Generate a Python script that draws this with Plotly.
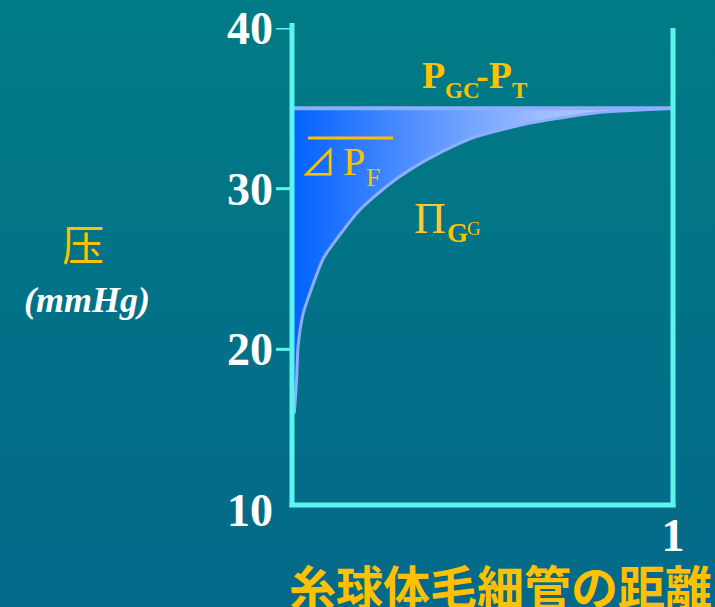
import base64
import plotly.graph_objects as go

# Distance along the glomerular capillary (0 = afferent end, 1 = efferent end)
distance = [0.006, 0.012, 0.016, 0.029, 0.053, 0.083, 0.131, 0.179,
            0.251, 0.311, 0.394, 0.478, 0.610, 0.790, 1.000]
# Oncotic pressure in the glomerular capillary, mmHg
pi_gg = [16.0, 18.1, 20.2, 22.2, 23.9, 25.7, 27.3, 28.7,
         30.2, 31.2, 32.3, 33.2, 34.0, 34.7, 35.0]
# Hydrostatic pressure difference P_GC - P_T, mmHg (constant)
p_diff_x = [0.0, 1.0]
p_diff_y = [35.0, 35.0]

y_tick_values = [10, 20, 30, 40]
y_tick_marks = [20, 30, 40]
x_tick_values = [1]
x_tick_text = ["1"]

W, H = 715, 607
L, R, T, B = 292, 42, 28, 97
PW, PH = W - L - R, H - T - B

GOLD = "#FFC000"
CYAN = "#5CF4EC"
SERIF = "Liberation Serif, Times New Roman, serif"
CJK = "Noto Sans CJK JP, Noto Sans CJK SC, sans-serif"


def px_x(px):
    return (px - L) / PW


def px_y(py):
    return (H - B - py) / PH


# teal background gradient
svg = (
    f'<svg xmlns="http://www.w3.org/2000/svg" width="{W}" height="{H}" '
    f'viewBox="0 0 {W} {H}" preserveAspectRatio="none">'
    '<defs><linearGradient id="g" x1="0" y1="0" x2="0" y2="1">'
    '<stop offset="0" stop-color="#007B85"/>'
    '<stop offset="1" stop-color="#04698A"/>'
    '</linearGradient></defs>'
    f'<rect width="{W}" height="{H}" fill="url(#g)"/></svg>'
)
bg_src = "data:image/svg+xml;base64," + base64.b64encode(svg.encode()).decode()

fig = go.Figure()

# P_GC - P_T level
fig.add_trace(go.Scatter(
    x=p_diff_x, y=p_diff_y, mode="lines",
    line=dict(color="#8CAEFF", width=4),
    hoverinfo="skip", showlegend=False,
))
# Pi_GG curve, filled up to P_GC - P_T (net filtration pressure)
fig.add_trace(go.Scatter(
    x=distance, y=pi_gg, mode="lines",
    line=dict(color="#8FAEFF", width=3, shape="spline", smoothing=0.6),
    fill="tonexty",
    fillgradient=dict(
        type="horizontal",
        colorscale=[[0, "#0062FF"], [0.3, "#4D8DFF"], [0.65, "#9DBDFF"], [1, "#C8DAFF"]],
    ),
    hoverinfo="skip", showlegend=False,
))

shapes = []
# frame: left axis, right side, bottom
shapes.append(dict(type="line", xref="paper", yref="paper",
                   x0=0, x1=0, y0=px_y(507), y1=px_y(23),
                   line=dict(color=CYAN, width=5)))
shapes.append(dict(type="line", xref="paper", yref="paper",
                   x0=px_x(673), x1=px_x(673), y0=px_y(507), y1=px_y(28),
                   line=dict(color=CYAN, width=5)))
shapes.append(dict(type="line", xref="paper", yref="paper",
                   x0=px_x(289.5), x1=px_x(675.5), y0=px_y(505), y1=px_y(505),
                   line=dict(color=CYAN, width=5)))
for v in y_tick_marks:
    shapes.append(dict(type="line", xref="paper", yref="y",
                       x0=px_x(276), x1=0, y0=v, y1=v,
                       line=dict(color=CYAN, width=3)))
# overline of the mean filtration pressure symbol
shapes.append(dict(type="line", xref="paper", yref="paper",
                   x0=px_x(308), x1=px_x(393), y0=px_y(138), y1=px_y(138),
                   line=dict(color=GOLD, width=3)))


def label(text, cx, cy, size, color=GOLD, family=SERIF, weight="normal",
          style="normal", xanchor="center"):
    return dict(text=text, x=px_x(cx), y=px_y(cy), xref="paper", yref="paper",
                showarrow=False, xanchor=xanchor, yanchor="middle",
                font=dict(family=family, size=size, color=color,
                          weight=weight, style=style))


annotations = [
    # P_GC - P_T
    label("P", 433, 75, 38, weight="bold"),
    label("GC", 462, 90, 23, weight="bold"),
    label("-P", 494, 75, 38, weight="bold"),
    label("T", 519, 90, 23, weight="bold"),
    # mean ΔP_F
    label("⊿", 318, 160, 36, family="Noto Sans CJK JP, DejaVu Sans, sans-serif"),
    label("P", 354, 161, 40),
    label("F", 373, 177, 26),
    # Π_GG
    label("Π", 430, 218, 44, color="#FFC832"),
    label("G", 457, 233, 27, weight="bold"),
    label("G", 474, 229, 19),
    # axis titles
    label("压", 83, 243, 42, family="Noto Sans CJK SC, Noto Sans CJK JP, sans-serif"),
    label("(mmHg)", 87, 300, 36, color="white", weight="bold", style="italic"),
    label("糸球体毛細管の距離", 500, 584, 47, family=CJK, weight="bold"),
]

fig.update_layout(
    width=W, height=H,
    margin=dict(l=L, r=R, t=T, b=B, pad=0, autoexpand=False),
    paper_bgcolor="#037185",
    plot_bgcolor="rgba(0,0,0,0)",
    images=[dict(source=bg_src, xref="paper", yref="paper",
                 x=-L / PW, y=1 + T / PH, sizex=W / PW, sizey=H / PH,
                 xanchor="left", yanchor="top", sizing="stretch", layer="below")],
    shapes=shapes,
    annotations=annotations,
    xaxis=dict(range=[0, 1], showgrid=False, zeroline=False, showline=False,
               automargin=False,
               tickvals=x_tick_values, ticktext=x_tick_text, ticks="",
               ticklabelstandoff=-6,
               tickfont=dict(family=SERIF, size=46, color="white", weight="bold")),
    yaxis=dict(range=[10, 40], showgrid=False, zeroline=False, showline=False,
               automargin=False,
               tickvals=y_tick_values, ticks="", ticklabelstandoff=18,
               tickfont=dict(family=SERIF, size=46, color="white", weight="bold")),
)

fig.write_html("out.html")
